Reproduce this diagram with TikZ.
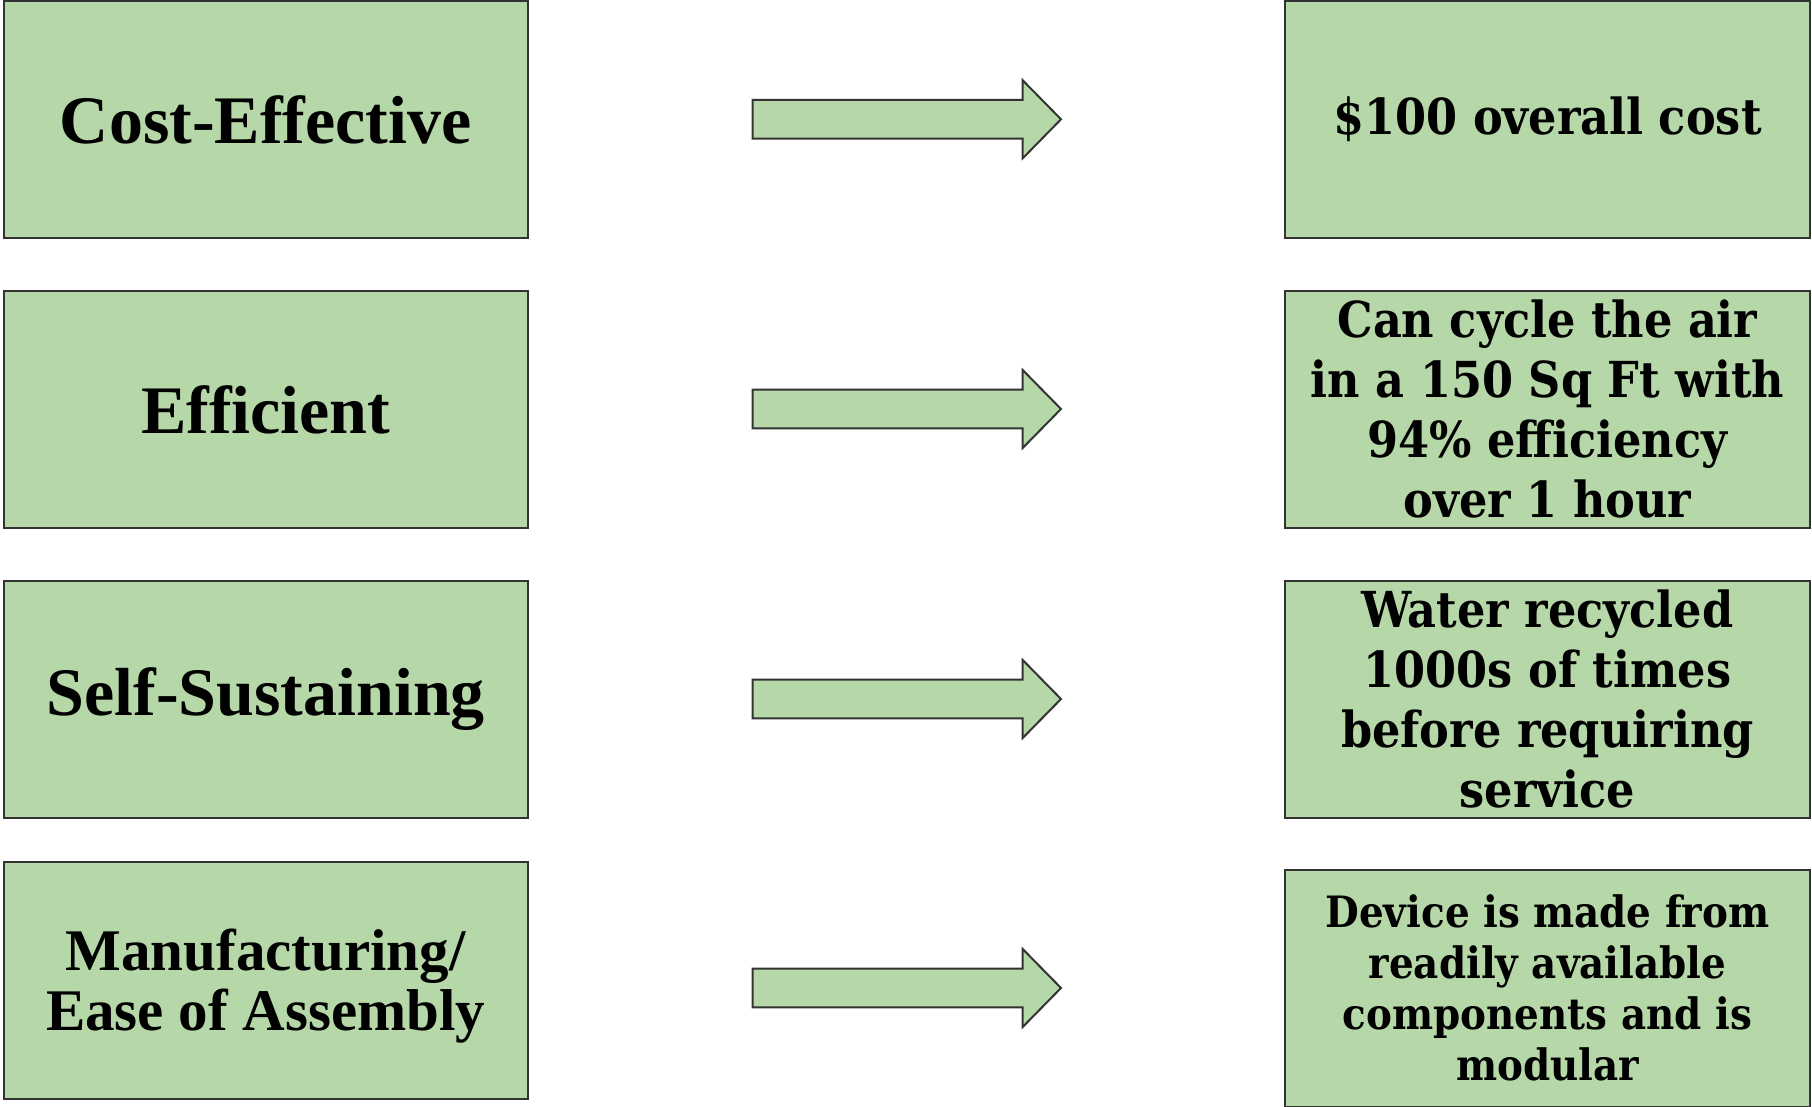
\documentclass[tikz,border=0pt]{standalone}
\usepackage{fontspec}
\setmainfont{Liberation Serif}
\newfontfamily\rfont{DejaVu Serif Condensed}
\definecolor{boxgreen}{HTML}{B6D7A8}
\definecolor{edge}{HTML}{333333}
\begin{document}
\begin{tikzpicture}[x=0.5pt,y=-0.5pt,
  box/.style={draw=edge, line width=1pt, fill=boxgreen, minimum width=262.25pt,
    minimum height=118.5pt, inner sep=0pt, align=center},
  lbig/.style={font=\fontsize{34}{30}\selectfont\bfseries},
  lsmall/.style={font=\fontsize{29.5}{30}\selectfont\bfseries},
  rbig/.style={font=\rfont\fontsize{24.8}{30}\selectfont\bfseries},
  rsmall/.style={font=\rfont\fontsize{21.6}{25.5}\selectfont\bfseries},
  blockarrow/.style={draw=edge, line width=1pt, fill=boxgreen, line join=miter}]
\useasboundingbox (0,0) rectangle (1812,1107);
% left boxes
\node[box,lbig] (L1) at (265.75,119.5) {Cost-Effective};
\node[box,lbig] (L2) at (265.75,409.5) {Efficient};
\node[box,lbig] (L3) at (265.75,699) {Self-Sustaining};
\node[box,lsmall] (L4) at (265.75,980) {\rule{0pt}{27pt}Manufacturing/\\Ease of Assembly};
% right boxes
\node[box,rbig] (R1) at (1547.5,119.5) {\$100 overall cost};
\node[box,rbig] (R2) at (1547.5,409.5) {Can cycle the air\\in a 150 Sq Ft with\\94\% efficiency\\over 1 hour};
\node[box,rbig] (R3) at (1547.5,699) {Water recycled\\1000s of times\\before requiring\\service};
\node[box,rsmall] (R4) at (1547.5,988) {Device is made from\\readily available\\components and is\\modular};
% block arrows
\foreach \n/\c in {1/119.3,2/409,3/699,4/988}{
  \coordinate (A\n) at (752.7,\c);
  \draw[blockarrow] (A\n) ++(0,-19.3) -- ++(270,0) -- ++(0,-19.7) -- ++(38.3,39)
    -- ++(-38.3,39) -- ++(0,-19.7) -- ++(-270,0) -- cycle;
}
\end{tikzpicture}
\end{document}
